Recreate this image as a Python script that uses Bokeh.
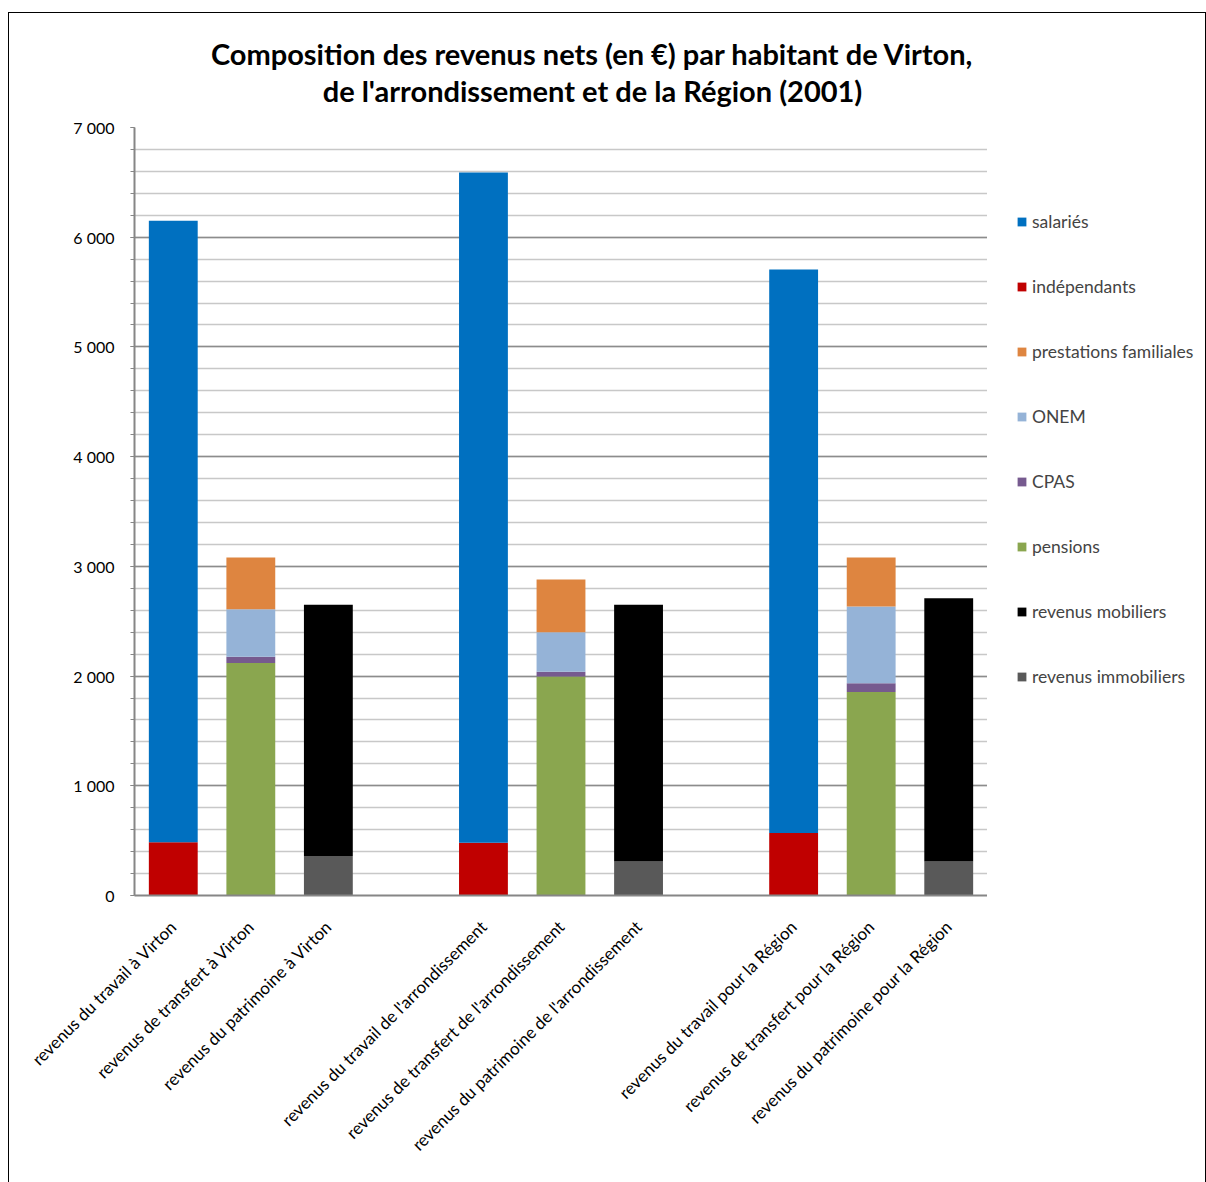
import math
from bokeh.plotting import figure
from bokeh.layouts import column, row
from bokeh.models import (ColumnDataSource, FactorRange, Range1d, Legend, LegendItem,
                          SingleIntervalTicker, Label, Plot, VBar, CategoricalScale, LinearScale)
from bokeh.embed import file_html
from bokeh.resources import INLINE

# ---- data ----
categories = [
    "revenus du travail à Virton", "revenus de transfert à Virton", "revenus du patrimoine à Virton", " ",
    "revenus du travail de l'arrondissement", "revenus de transfert de l'arrondissement",
    "revenus du patrimoine de l'arrondissement", "  ",
    "revenus du travail pour la Région", "revenus de transfert pour la Région", "revenus du patrimoine pour la Région",
]
bars = [c for c in categories if c.strip()]

immobiliers  = [0, 0, 360,   0, 0, 310,   0, 0, 310]
mobiliers    = [0, 0, 2290,  0, 0, 2340,  0, 0, 2400]
pensions     = [0, 2120, 0,  0, 1995, 0,  0, 1855, 0]
cpas         = [0, 55, 0,    0, 45, 0,    0, 80, 0]
onem         = [0, 435, 0,   0, 360, 0,   0, 700, 0]
prestations  = [0, 470, 0,   0, 480, 0,   0, 445, 0]
independants = [485, 0, 0,   480, 0, 0,   570, 0, 0]
salaries     = [5665, 0, 0,  6110, 0, 0,  5135, 0, 0]

series_names = ["revenus immobiliers", "revenus mobiliers", "pensions", "CPAS", "ONEM",
                "prestations familiales", "indépendants", "salariés"]
series_vals = [immobiliers, mobiliers, pensions, cpas, onem, prestations, independants, salaries]
colors = ["#595959", "#000000", "#8AA64F", "#765A8F", "#95B3D7", "#DE8540", "#C00000", "#0070C0"]

y_ticks = [0, 1000, 2000, 3000, 4000, 5000, 6000, 7000]
y_tick_labels = ["0", "1 000", "2 000", "3 000", "4 000", "5 000", "6 000", "7 000"]

title_lines = ["Composition des revenus nets (en €) par habitant de Virton,",
               "de l'arrondissement et de la Région (2001)"]

FONT = "Lato"

data = {"x": bars}
keys = []
for i, vals in enumerate(series_vals):
    k = f"s{i}"
    keys.append(k)
    data[k] = vals
source = ColumnDataSource(data)

# ---- title strip ----
TW, TH = 1196, 100
pt = Plot(width=TW, height=TH, x_range=Range1d(0, TW), y_range=Range1d(0, TH),
          min_border=0, toolbar_location=None, output_backend="svg", outline_line_color=None)
pt.add_layout(Label(x=583, y=60, text=title_lines[0], text_align="center", text_baseline="middle",
                    text_font=FONT, text_font_size="29px", text_font_style="bold", text_color="#000000"))
pt.add_layout(Label(x=583, y=23, text=title_lines[1], text_align="center", text_baseline="middle",
                    text_font=FONT, text_font_size="29px", text_font_style="bold", text_color="#000000"))

# ---- main chart ----
MH = 1070
p = figure(width=978, height=MH, x_range=FactorRange(factors=categories, range_padding=0),
           y_range=Range1d(0, 7000), output_backend="svg", toolbar_location=None,
           title=None, min_border_left=125, min_border_right=0, min_border_top=14,
           min_border_bottom=288)
p.outline_line_color = None

renderers = p.vbar_stack(keys, x="x", width=0.63, source=source, color=colors, line_color=None)

p.yaxis.ticker = SingleIntervalTicker(interval=1000, num_minor_ticks=5)
p.yaxis.major_label_overrides = dict(zip(y_ticks, y_tick_labels))
p.yaxis.major_label_text_font = FONT
p.yaxis.major_label_text_font_size = "16px"
p.yaxis.major_label_text_color = "#000000"
p.yaxis.axis_line_color = "#868686"
p.yaxis.axis_line_width = 2
p.yaxis.major_tick_line_color = "#868686"
p.yaxis.minor_tick_line_color = "#868686"
p.yaxis.major_tick_in = 0
p.yaxis.major_tick_out = 4
p.yaxis.minor_tick_in = 0
p.yaxis.minor_tick_out = 4
p.yaxis.major_label_standoff = 16

p.xaxis.major_label_orientation = math.pi / 4
p.xaxis.major_label_text_font = FONT
p.xaxis.major_label_text_font_size = "17px"
p.xaxis.major_label_text_color = "#000000"
p.xaxis.axis_line_color = "#868686"
p.xaxis.axis_line_width = 2
p.xaxis.major_tick_line_color = None
p.xaxis.minor_tick_line_color = None
p.xaxis.major_label_standoff = 22

p.xgrid.visible = False
p.ygrid.grid_line_color = "#8c8c8c"
p.ygrid.grid_line_width = 1.5
p.ygrid.minor_grid_line_color = "#c8c8c8"
p.ygrid.minor_grid_line_width = 1.5

# ---- legend strip (frame aligned with the main frame by the row layout) ----
LW = 218
pl = Plot(width=LW, height=MH, x_range=FactorRange(factors=categories), y_range=Range1d(-2, -1),
          x_scale=CategoricalScale(), y_scale=LinearScale(),
          min_border=0, toolbar_location=None, output_backend="svg", outline_line_color=None)
legend_renderers = []
for name, k, c in zip(series_names, keys, colors):
    # zero-width glyphs: only serve as legend swatches
    r = pl.add_glyph(source, VBar(x="x", top=k, width=0, fill_color=c, line_color=None))
    legend_renderers.append((name, r))
items = [LegendItem(label=n, renderers=[r]) for n, r in legend_renderers][::-1]
legend = Legend(items=items, location=(29, 208), padding=0, margin=0, spacing=44,
                label_height=21, glyph_height=11, glyph_width=11, label_standoff=5,
                label_text_font=FONT, label_text_font_size="17.5px", border_line_color=None,
                background_fill_alpha=0)
pl.add_layout(legend, "center")

layout = column(pt, row(p, pl))
layout.styles = {"border": "1px solid black", "margin-left": "8px", "margin-top": "12px"}

open("out.html", "w").write(file_html(layout, INLINE))
